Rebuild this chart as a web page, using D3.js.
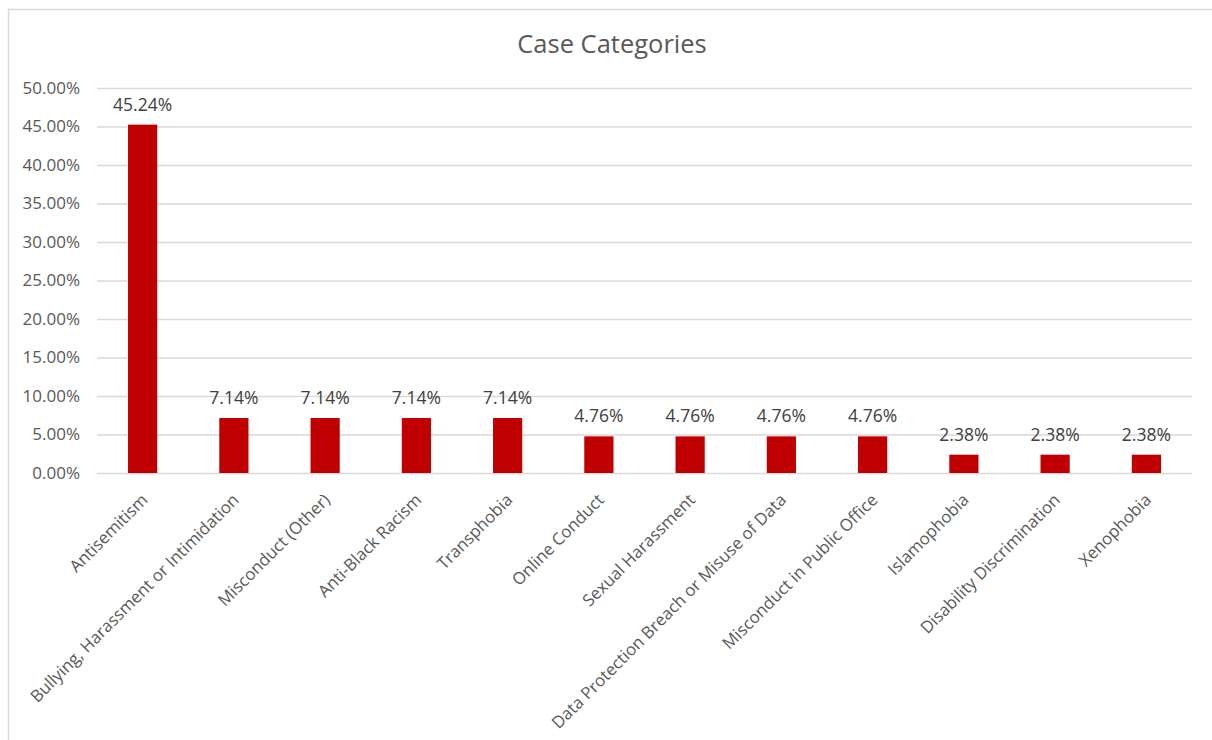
<!DOCTYPE html>
<html>
<head>
<meta charset="utf-8">
<script src="https://cdn.jsdelivr.net/npm/d3@7"></script>
<style>
  body { margin: 0; background: #fff; }
  svg text { font-family: "Open Sans", sans-serif; }
</style>
</head>
<body>
<div id="chart"></div>
<script>
// chart data
var categories = ['Antisemitism', 'Bullying, Harassment or Intimidation', 'Misconduct (Other)',
	'Anti-Black Racism', 'Transphobia', 'Online Conduct', 'Sexual Harassment',
	'Data Protection Breach or Misuse of Data', 'Misconduct in Public Office',
	'Islamophobia', 'Disability Discrimination', 'Xenophobia'];
var shares = [45.24, 7.14, 7.14, 7.14, 7.14, 4.76, 4.76, 4.76, 4.76, 2.38, 2.38, 2.38];
var yTicks = [0, 5, 10, 15, 20, 25, 30, 35, 40, 45, 50];

const WIDTH = 1212;
const HEIGHT = 740;
const PLOT = { LEFT: 97, RIGHT: 1192, TOP: 88, BOTTOM: 473 };
const BAR_COLOR = '#C00000';
const GRID_COLOR = '#D9D9D9';

var svg = d3.select('#chart').append('svg')
	.attr('width', WIDTH)
	.attr('height', HEIGHT);

// chart frame (left + top edges visible)
svg.append('path')
	.attr('d', 'M8.5,' + HEIGHT + 'V9.5H' + WIDTH)
	.attr('fill', 'none')
	.attr('stroke', GRID_COLOR)
	.attr('stroke-width', 1.5);

svg.append('text')
	.attr('x', 612)
	.attr('y', 53)
	.attr('text-anchor', 'middle')
	.style('font-size', '25.5px')
	.attr('fill', '#595959')
	.text('Case Categories');

var x = d3.scaleBand().domain(categories).range([PLOT.LEFT, PLOT.RIGHT]).paddingInner(0.68).paddingOuter(0.34);
var y = d3.scaleLinear().domain([0, 50]).range([PLOT.BOTTOM, PLOT.TOP]);

var yAxis = d3.axisLeft(y).tickValues(yTicks)
	.tickSize(-(PLOT.RIGHT - PLOT.LEFT)).tickPadding(17)
	.tickFormat(function (d) { return d.toFixed(2) + '%'; });

var gy = svg.append('g')
	.attr('class', 'y axis')
	.attr('transform', 'translate(' + PLOT.LEFT + ',0)')
	.call(yAxis);
gy.select('.domain').remove();
gy.selectAll('line').attr('stroke', GRID_COLOR).attr('stroke-width', 1.5);
gy.selectAll('text').attr('fill', '#595959').style('font-size', '17px');

var xAxis = d3.axisBottom(x).tickSize(0).tickPadding(0);
var gx = svg.append('g')
	.attr('class', 'x axis')
	.attr('transform', 'translate(0,' + PLOT.BOTTOM + ')')
	.call(xAxis);
gx.select('.domain').remove();
gx.selectAll('text')
	.attr('fill', '#595959')
	.style('font-size', '16.8px')
	.attr('text-anchor', 'end')
	.attr('dy', 0)
	.attr('y', 0)
	.attr('transform', 'translate(6,28) rotate(-45)');

var bars = svg.selectAll('.bar').data(shares).enter();
bars.append('rect')
	.attr('class', 'bar')
	.attr('x', function (d, i) { return x(categories[i]); })
	.attr('y', function (d) { return y(d); })
	.attr('width', x.bandwidth())
	.attr('height', function (d) { return y(0) - y(d); })
	.attr('fill', BAR_COLOR);

bars.append('text')
	.attr('x', function (d, i) { return x(categories[i]) + x.bandwidth() / 2; })
	.attr('y', function (d) { return y(d) - 14; })
	.attr('text-anchor', 'middle')
	.style('font-size', '17.5px')
	.attr('fill', '#404040')
	.text(function (d) { return d.toFixed(2) + '%'; });
</script>
</body>
</html>
